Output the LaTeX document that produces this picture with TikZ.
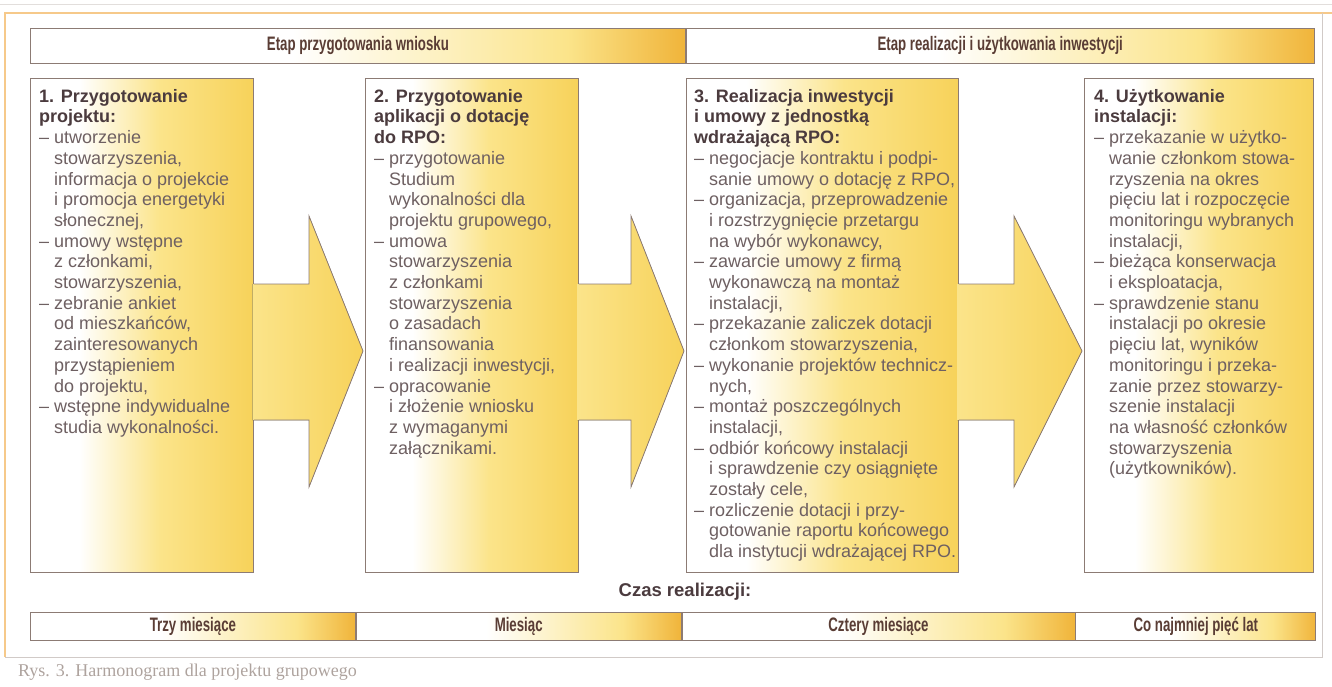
\documentclass[tikz,border=0pt]{standalone}
\usepackage{fontspec}
\setmainfont{Liberation Sans}
\newfontfamily\condfont[FakeStretch=0.68]{Liberation Sans}
\newfontfamily\capfont{Liberation Serif}
\usetikzlibrary{positioning,calc}

\definecolor{ramka}{HTML}{8C7B74}
\definecolor{tytul}{HTML}{4B3B3E}
\definecolor{punkt}{HTML}{6E6062}
\definecolor{etykieta}{HTML}{5A3D35}
\definecolor{jasnyzolty}{HTML}{FBE48A}
\definecolor{zolty}{HTML}{F7D25A}
\definecolor{pomarancz}{HTML}{F0B43A}
\definecolor{brzeg}{HTML}{F6C98A}

\pgfdeclarehorizontalshading{pasek}{100bp}{color(0bp)=(white); color(25bp)=(white); color(45bp)=(white); color(66bp)=(jasnyzolty); color(75bp)=(pomarancz); color(100bp)=(pomarancz)}
\pgfdeclarehorizontalshading{skrzynka}{100bp}{color(0bp)=(white); color(25bp)=(white); color(36bp)=(white); color(54bp)=(jasnyzolty); color(75bp)=(zolty); color(100bp)=(zolty)}

\newcommand{\kreska}{\makebox[0.83em][l]{--}}
\newcommand{\wciecie}{\hspace*{0.83em}}

\begin{document}
\begin{tikzpicture}[x=1pt,y=-1pt]
	\tikzset{ramka/.style={draw=ramka,line width=0.8pt}}
	\tikzset{etap/.style={ramka,shading=pasek,anchor=north west,inner sep=0pt,font=\condfont\bfseries\fontsize{19.5}{22}\selectfont,text=etykieta}}
	\tikzset{skrzynka/.style={ramka,shading=skrzynka,anchor=north west,inner sep=0pt,minimum height=494pt}}
	\tikzset{tekst/.style={anchor=north west,align=left,inner sep=0pt,text=punkt,font=\fontsize{18}{20.7}\selectfont}}
	\tikzset{strzalka/.style={left color=jasnyzolty,right color=zolty}}
	\useasboundingbox (0,0) rectangle (1332,686);
	% ramka strony
	\draw[ramka!25] (0,4) -- (1332,4);
	\draw[brzeg,line width=1.2pt] (1332,13) -- (5,13) -- (5,657);
	\draw[ramka!40] (5,657) -- (1322,657) -- (1322,13);
	% etapy
	\node[etap,minimum width=655pt,minimum height=35pt] (e1) at (30,28) {Etap przygotowania wniosku};
	\node[etap,minimum width=628pt,minimum height=35pt] (e2) at (e1.north east) {Etap realizacji i użytkowania inwestycji};
	% skrzynki
	\node[skrzynka,minimum width=223pt] (b1) at (30,78) {};
	\node[skrzynka,minimum width=213pt] (b2) at (365,78) {};
	\node[skrzynka,minimum width=272pt] (b3) at (686,78) {};
	\node[skrzynka,minimum width=229pt] (b4) at (1084,78) {};
	% strzalki
	\foreach \a/\b/\k in {b1/b2/309,b2/b3/631,b3/b4/1014}{
		\fill[strzalka] ($(\a.east |- 0,284)+(-1.5,0)$) -- (\k,284) -- (\k,216) -- ($(\b.west |- 0,351)+(-2,0)$) -- (\k,487) -- (\k,420) -- ($(\a.east |- 0,420)+(-1.5,0)$) -- cycle;
		\draw[ramka] (\a.east |- 0,284) -- (\k,284) -- (\k,216) -- ($(\b.west |- 0,351)+(-2,0)$) -- (\k,487) -- (\k,420) -- (\a.east |- 0,420);
	}
	% teksty
	\node[tekst] (t1) at ($(b1.north west)+(9,11)$) {\textcolor{tytul}{\bfseries 1. Przygotowanie}\\
		\textcolor{tytul}{\bfseries projektu:}\\
		\kreska utworzenie\\
		\wciecie stowarzyszenia,\\
		\wciecie informacja o projekcie\\
		\wciecie i promocja energetyki\\
		\wciecie słonecznej,\\
		\kreska umowy wstępne\\
		\wciecie z członkami,\\
		\wciecie stowarzyszenia,\\
		\kreska zebranie ankiet\\
		\wciecie od mieszkańców,\\
		\wciecie zainteresowanych\\
		\wciecie przystąpieniem\\
		\wciecie do projektu,\\
		\kreska wstępne indywidualne\\
		\wciecie studia wykonalności.};
	\node[tekst] (t2) at ($(b2.north west)+(9,11)$) {\textcolor{tytul}{\bfseries 2. Przygotowanie}\\
		\textcolor{tytul}{\bfseries aplikacji o dotację}\\
		\textcolor{tytul}{\bfseries do RPO:}\\
		\kreska przygotowanie\\
		\wciecie Studium\\
		\wciecie wykonalności dla\\
		\wciecie projektu grupowego,\\
		\kreska umowa\\
		\wciecie stowarzyszenia\\
		\wciecie z członkami\\
		\wciecie stowarzyszenia\\
		\wciecie o zasadach\\
		\wciecie finansowania\\
		\wciecie i realizacji inwestycji,\\
		\kreska opracowanie\\
		\wciecie i złożenie wniosku\\
		\wciecie z wymaganymi\\
		\wciecie załącznikami.};
	\node[tekst] (t3) at ($(b3.north west)+(8,11)$) {\textcolor{tytul}{\bfseries 3. Realizacja inwestycji}\\
		\textcolor{tytul}{\bfseries i umowy z jednostką}\\
		\textcolor{tytul}{\bfseries wdrażającą RPO:}\\
		\kreska negocjacje kontraktu i podpi-\\
		\wciecie sanie umowy o dotację z RPO,\\
		\kreska organizacja, przeprowadzenie\\
		\wciecie i rozstrzygnięcie przetargu\\
		\wciecie na wybór wykonawcy,\\
		\kreska zawarcie umowy z firmą\\
		\wciecie wykonawczą na montaż\\
		\wciecie instalacji,\\
		\kreska przekazanie zaliczek dotacji\\
		\wciecie członkom stowarzyszenia,\\
		\kreska wykonanie projektów technicz-\\
		\wciecie nych,\\
		\kreska montaż poszczególnych\\
		\wciecie instalacji,\\
		\kreska odbiór końcowy instalacji\\
		\wciecie i sprawdzenie czy osiągnięte\\
		\wciecie zostały cele,\\
		\kreska rozliczenie dotacji i przy-\\
		\wciecie gotowanie raportu końcowego\\
		\wciecie dla instytucji wdrażającej RPO.};
	\node[tekst] (t4) at ($(b4.north west)+(10,11)$) {\textcolor{tytul}{\bfseries 4. Użytkowanie}\\
		\textcolor{tytul}{\bfseries instalacji:}\\
		\kreska przekazanie w użytko-\\
		\wciecie wanie członkom stowa-\\
		\wciecie rzyszenia na okres\\
		\wciecie pięciu lat i rozpoczęcie\\
		\wciecie monitoringu wybranych\\
		\wciecie instalacji,\\
		\kreska bieżąca konserwacja\\
		\wciecie i eksploatacja,\\
		\kreska sprawdzenie stanu\\
		\wciecie instalacji po okresie\\
		\wciecie pięciu lat, wyników\\
		\wciecie monitoringu i przeka-\\
		\wciecie zanie przez stowarzy-\\
		\wciecie szenie instalacji\\
		\wciecie na własność członków\\
		\wciecie stowarzyszenia\\
		\wciecie (użytkowników).};
	% czas realizacji
	\node[font=\bfseries\fontsize{18.5}{21}\selectfont,text=tytul] (cz) at (685,592) {Czas realizacji:};
	\node[etap,minimum width=325pt,minimum height=28pt] (c1) at (30,612) {Trzy miesiące};
	\node[etap,minimum width=325pt,minimum height=28pt] (c2) at (c1.north east) {Miesiąc};
	\node[etap,minimum width=393pt,minimum height=28pt] (c3) at (c2.north east) {Cztery miesiące};
	\node[etap,minimum width=240pt,minimum height=28pt] (c4) at (c3.north east) {Co najmniej pięć lat};
	\node[anchor=west,inner sep=0pt,font=\capfont\fontsize{18}{20}\selectfont,text=ramka!70] (rys) at (18,672) {Rys. 3. Harmonogram dla projektu grupowego};
\end{tikzpicture}
\end{document}
